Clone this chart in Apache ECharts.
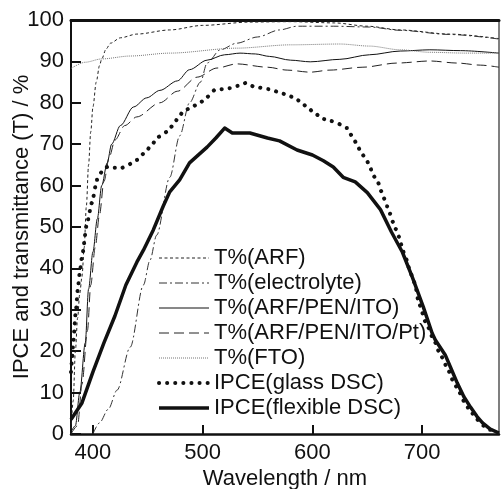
<!DOCTYPE html>
<html>
<head>
<meta charset="utf-8">
<script src="https://cdn.jsdelivr.net/npm/echarts@6/dist/echarts.min.js"></script>
<style>
html,body{margin:0;padding:0;background:#fff;}
#c{width:501px;height:489px;}
</style>
</head>
<body>
<div id="c"></div>
<script>
// ---- data ----
const xTicks = [400, 500, 600, 700];
const seriesNames = ['T%(ARF)', 'T%(electrolyte)', 'T%(ARF/PEN/ITO)', 'T%(ARF/PEN/ITO/Pt)', 'T%(FTO)', 'IPCE(glass DSC)', 'IPCE(flexible DSC)'];

const arfNm = [380,382,384,386,388,390,392,394,396,398,400,403,406,408,412,416,425,440,470,500,543,580,620,650,680,725,770];
const arfT  = [1,8,20,28,34,38,45,55,65,73,79,85,89,90.6,93,94.4,95.7,96.6,97.6,98.7,99.5,99.6,99.3,98.5,97.6,96.6,95.5];

const elecNm = [400,406,414,422,434,446,452,458,470,479,488,498,504,516,531,550,570,586,619,652,680,725,770];
const elecT  = [0,2.7,6,10.6,21,36,42,48,62,72,80,85,89.6,92.8,94.4,95.9,97.6,98.5,98.5,98.3,97.5,96.5,95.4];

const itoNm = [380,384,388,393,396,400,404,408,413,417,425,437,449,461,477,488,504,520,534,548,561,580,598,625,652,680,707,735,770];
const itoT  = [0.5,2,10,22,35,44,52,60,65.5,70,74.5,79,81.2,83,85.3,88,90.3,91.6,92,91.8,91.2,90.3,89.9,90.5,91.6,92.5,92.8,92.6,92];

const ptNm = [380,386,390,395,398,402,406,410,415,420,429,440,461,477,495,513,531,559,577,598,616,646,677,707,732,753,770];
const ptT  = [0,2,12,25,36,45,53,61,67,71,74.5,76.6,80,82.8,86.2,88.4,89.4,88.6,87.9,87.4,87.9,88.6,89.6,90.1,89.6,89.1,88.6];

const ftoNm = [380,393,408,434,470,531,580,625,652,680,707,740,770];
const ftoT  = [88.3,89.8,90.6,91.3,92,93.2,94,94.2,93.7,92.8,92.2,92,92];

const glassNm = [380,381,382,384.5,386.4,388,390,394.6,399,403.7,408,413,418,426.5,432,440,447.4,454,459,467.5,473,477.5,482,490,497.5,504,511,518.5,526.7,532,539.5,546,554,560,568,575,582,588.7,595,602,609.6,617,623,631.5,636,640.6,644,649,652.5,655,660,662.5,665,668,670.7,673.4,676,679,681,683.4,686,688,690.7,693.5,697,704,711,716,722,728,733,738,744,750,756,762,768];
const glassIPCE = [15,18,22,30,35.5,39,42.8,51,55.8,61.4,63.3,64.5,64.3,64.3,65,66.2,68,70,71.7,73,74.6,76.3,77.8,79,80,81.4,83.1,83.3,83.6,84.1,84.8,84,83.6,83.3,82.7,82.1,81.4,80.4,79,77.5,76.1,75.6,75,73.9,72,70,68.1,66.3,64.5,62.6,60.6,58.7,57,55,53.2,51.2,49.5,47.6,45.7,43.7,42,40.1,38.2,36.2,31.5,26.5,22.5,19.5,16.5,13,10.5,8,5.5,3.5,2,1,0.3];

const flexNm = [380,390,400,410,420,430,440,446,455,464,470,479,488,504,512,520,527,543,559,570,586,600,610,619,628,639,650,662,672,682,691,701,709,712,721,726,732,738,744,750,755,762,770];
const flexIPCE = [3.5,7.5,15,22,28.5,36,41.5,44.4,49.3,55,58.5,61.4,65.5,69.3,71.5,73.9,72.7,72.7,71.5,70.8,68.6,67.4,66,64.5,62,60.9,58.3,54.2,48.8,43.9,37.9,30.7,24.4,22.7,19.1,16,12.3,9,6.5,4.2,2.7,1.2,0.2];

// ---- build ----
const zip = (a, b) => a.map((v, i) => [v, b[i]]);
const FONT = '"Liberation Sans", Arial, Helvetica, sans-serif';
const FS = 22;

function mk(name, nm, vals, ls, smooth, z) {
  return {
    name: name, type: 'line', data: zip(nm, vals), showSymbol: false, symbol: 'none',
    smooth: smooth, smoothMonotone: 'x', lineStyle: ls, z: z || 2, animation: false,
    itemStyle: {color: ls.color, opacity: 0}
  };
}

const series = [
  mk(seriesNames[0], arfNm, arfT, {color: '#222', width: 1, type: [3, 2.5]}, 0.3),
  mk(seriesNames[1], elecNm, elecT, {color: '#333', width: 1, type: [8, 3, 2, 3]}, 0.3),
  mk(seriesNames[2], itoNm, itoT, {color: '#111', width: 1}, 0.3),
  mk(seriesNames[3], ptNm, ptT, {color: '#222', width: 1, type: [10, 5]}, 0.3),
  mk(seriesNames[4], ftoNm, ftoT, {color: '#777', width: 1, type: [1, 1]}, 0.3),
  mk(seriesNames[5], glassNm, glassIPCE, {color: '#111', width: 4, type: [0.1, 8], cap: 'round'}, 0.2, 3),
  mk(seriesNames[6], flexNm, flexIPCE, {color: '#111', width: 3.5, join: 'round'}, false, 4)
];

const chart = echarts.init(document.getElementById('c'), null, {renderer: 'canvas'});
chart.setOption({
  animation: false,
  backgroundColor: '#fff',
  textStyle: {fontFamily: FONT},
  grid: {left: 71, right: 2, top: 20, bottom: 55, containLabel: false, outerBoundsMode: 'none'},
  legend: {
    orient: 'vertical', left: 157, top: 247, padding: 0,
    itemWidth: 50, itemHeight: 14, itemGap: 3,
    data: seriesNames,
    textStyle: {fontSize: FS, lineHeight: 22, color: '#111', fontFamily: FONT},
    lineStyle: {width: 'inherit'},
    itemStyle: {opacity: 0},
    selectedMode: false
  },
  xAxis: [{
    type: 'value', min: 380, max: 770,
    name: 'Wavelength / nm', nameLocation: 'middle', nameGap: 34,
    nameMoveOverlap: false,
    nameTextStyle: {fontSize: FS, color: '#111', fontFamily: FONT},
    axisLine: {show: true, onZero: false, lineStyle: {color: '#111', width: 2.5}},
    axisTick: {show: true, inside: true, length: 9, lineStyle: {color: '#111', width: 2}, customValues: xTicks},
    axisLabel: {fontSize: FS, color: '#111', margin: 8, fontFamily: FONT, customValues: xTicks},
    splitLine: {show: false}
  }, {
    type: 'value', min: 380, max: 770, position: 'top',
    axisLine: {show: true, onZero: false, lineStyle: {color: '#111', width: 3}},
    axisTick: {show: false}, axisLabel: {show: false}, splitLine: {show: false}
  }],
  yAxis: [{
    type: 'value', min: 0, max: 100, interval: 10,
    name: 'IPCE and transmittance (T) / %', nameLocation: 'middle', nameGap: 38,
    nameMoveOverlap: false,
    nameTextStyle: {fontSize: FS, color: '#111', fontFamily: FONT},
    axisLine: {show: true, onZero: false, lineStyle: {color: '#111', width: 2}},
    axisTick: {show: true, inside: true, length: 10, lineStyle: {color: '#111', width: 2}},
    axisLabel: {fontSize: FS, color: '#111', margin: 7, fontFamily: FONT},
    splitLine: {show: false}
  }, {
    type: 'value', min: 0, max: 100, position: 'right',
    axisLine: {show: true, onZero: false, lineStyle: {color: '#555', width: 1.5}},
    axisTick: {show: false}, axisLabel: {show: false}, splitLine: {show: false}
  }],
  series: series
});
</script>
</body>
</html>
